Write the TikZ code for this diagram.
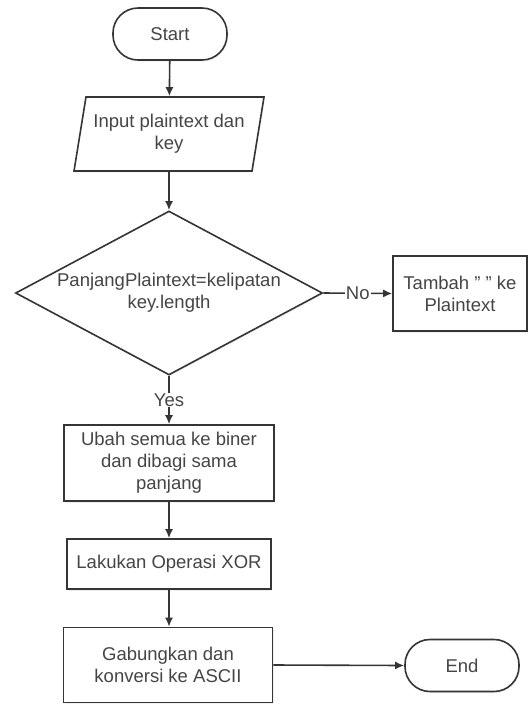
\documentclass[tikz,border=0pt]{standalone}
\usepackage{fontspec}
\setmainfont{Liberation Sans}
\usetikzlibrary{shapes.geometric,arrows.meta,shadows}
\definecolor{garis}{HTML}{353535}
\definecolor{teks}{HTML}{454545}

\begin{document}
\begin{tikzpicture}[x=1pt,y=-1pt,
  every node/.style={font=\fontsize{18.5}{22}\selectfont, text=teks},
  bentuk/.style={draw=garis, line width=1.6pt, fill=white, align=center,
    drop shadow={opacity=0.12, shadow xshift=1pt, shadow yshift=-1.5pt}},
  terminal/.style={bentuk, rounded corners=25pt, minimum width=114pt, minimum height=52pt},
  proses/.style={bentuk, rectangle, inner sep=2pt},
  masuk/.style={bentuk, trapezium, trapezium left angle=73, trapezium right angle=107,
    trapezium stretches body, minimum width=190pt, minimum height=74pt, inner sep=0pt},
  pilihan/.style={bentuk, diamond, aspect=1.87, inner sep=0pt,
    minimum width=307pt, minimum height=164pt},
  panah/.style={draw=garis, line width=1.6pt, -{Latex[length=9pt,width=8pt]}},
  label/.style={fill=white, inner sep=1pt}]
\useasboundingbox (0,0) rectangle (528,705);

\node[terminal] (mulai) at (170,34) {Start};
\node[masuk] (input) at (169,134) {Input plaintext dan\\key};
\node[pilihan] (cek) at (169,293) {PanjangPlaintext=kelipatan\\key.length};
\node[proses, minimum width=134pt, minimum height=75pt] (tambah) at (460,293.5) {Tambah " " ke\\Plaintext};
\node[proses, minimum width=210pt, minimum height=76pt] (biner) at (169,463) {Ubah semua ke biner\\dan dibagi sama\\panjang};
\node[proses, minimum width=204pt, minimum height=50pt] (xor) at (169,564) {Lakukan Operasi XOR};
\node[proses, minimum width=209pt, minimum height=75pt] (gabung) at (168,665) {Gabungkan dan\\konversi ke ASCII};
\node[terminal] (selesai) at (462,665.5) {End};

\draw[panah] (mulai) -- (input);
\draw[panah] (input) -- (cek);
\draw[panah] (cek.east) -- node[label] {No} (tambah.west);
\draw[panah] (cek.south) -- node[label] {Yes} (biner.north);
\draw[panah] (biner) -- (xor);
\draw[panah] (xor.south) -- (xor.south |- gabung.north);
\draw[panah] (gabung.east) -- (selesai.west);
\end{tikzpicture}
\end{document}
